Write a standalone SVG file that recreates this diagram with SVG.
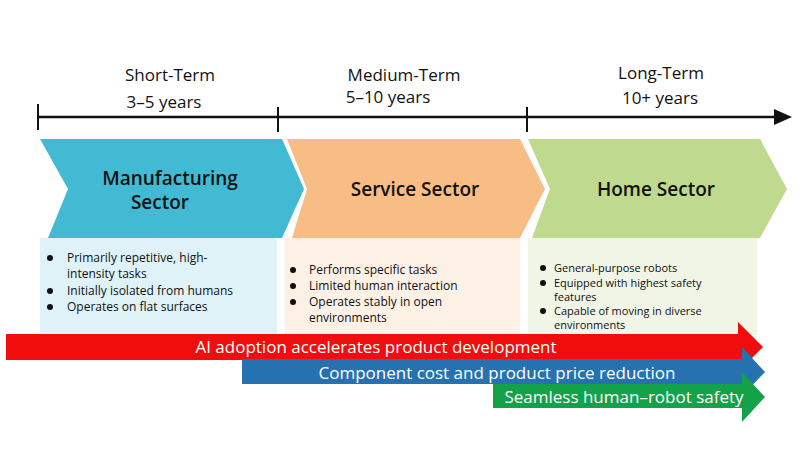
<svg xmlns="http://www.w3.org/2000/svg" width="800" height="450" viewBox="0 0 800 450">
<style>
text{font-family:"Open Sans","Noto Sans",sans-serif;fill:#111}
.h{font-size:17px;text-anchor:middle}
.c{font-size:19px;text-anchor:middle;font-weight:600}
.b{font-size:12px}
.s{font-size:11px}
.a{font-size:17px;fill:#fff;text-anchor:middle}
.tick{stroke:#111;stroke-width:2}
</style>
<rect width="800" height="450" fill="#fff"/>
<g id="axis">
<line x1="38" y1="117" x2="776" y2="117" stroke="#111" stroke-width="2.5"/>
<polygon points="774,109 792,117 774,125" fill="#111"/>
<line class="tick" x1="38" y1="104" x2="38" y2="130"/>
<line class="tick" x1="278" y1="107" x2="278" y2="132"/>
<line class="tick" x1="527" y1="107" x2="527" y2="132"/>
<text class="h" x="170" y="81">Short-Term</text>
<text class="h" x="164" y="108">3–5 years</text>
<text class="h" x="404" y="81">Medium-Term</text>
<text class="h" x="388" y="103">5–10 years</text>
<text class="h" x="661" y="79">Long-Term</text>
<text class="h" x="660" y="104">10+ years</text>
</g>
<g id="manufacturing">
<rect x="40" y="238" width="237" height="97" fill="#dff2f7"/>
<polygon points="40,139 282,139 304,189 282,238 48,238 68,189" fill="#43bad3"/>
<text class="c" x="170" y="185">Manufacturing</text>
<text class="c" x="160" y="209">Sector</text>
<circle cx="50" cy="258" r="3" fill="#111"/><text class="b" x="67" y="262">Primarily repetitive,  high-</text>
<text class="b" x="67" y="278">intensity tasks</text>
<circle cx="50" cy="291" r="3" fill="#111"/><text class="b" x="67" y="295">Initially isolated from humans</text>
<circle cx="50" cy="307" r="3" fill="#111"/><text class="b" x="67" y="311">Operates on flat surfaces</text>
</g>
<g id="service">
<rect x="285" y="238" width="235" height="97" fill="#fdf0e5"/>
<polygon points="287,139 520,139 545,189 520,238 292,238 307,189" fill="#f8bd85"/>
<text class="c" x="415" y="196">Service Sector</text>
<circle cx="293" cy="270" r="3" fill="#111"/><text class="b" x="309" y="274">Performs specific tasks</text>
<circle cx="293" cy="286" r="3" fill="#111"/><text class="b" x="309" y="290">Limited human interaction</text>
<circle cx="293" cy="302" r="3" fill="#111"/><text class="b" x="309" y="306">Operates stably in open</text>
<text class="b" x="309" y="322">environments</text>
</g>
<g id="home">
<rect x="528" y="238" width="229" height="97" fill="#f0f5e6"/>
<polygon points="528,139 760,139 787,189 760,238 532,238 550,189" fill="#bfda8e"/>
<text class="c" x="656" y="196">Home Sector</text>
<circle cx="543" cy="268" r="3" fill="#111"/><text class="s" x="554" y="272">General-purpose robots</text>
<circle cx="543" cy="283" r="3" fill="#111"/><text class="s" x="554" y="287">Equipped with highest safety</text>
<text class="s" x="554" y="301">features</text>
<circle cx="543" cy="311" r="3" fill="#111"/><text class="s" x="554" y="315">Capable of moving in diverse</text>
<text class="s" x="554" y="329">environments</text>
</g>
<g id="connectors">
<polygon points="6,334 738,334 738,322 763,347 738,372 738,360 6,360" fill="#f20d0d"/>
<text class="a" x="376" y="353">AI adoption accelerates product development</text>
<polygon points="242,359 742,359 742,347 765,372 742,396 742,384 242,384" fill="#2672b0"/>
<text class="a" x="497" y="379">Component cost and product price reduction</text>
<polygon points="493,384 742,384 742,372 765,397 742,422 742,408 493,408" fill="#13a24a"/>
<text class="a" x="624" y="403">Seamless human–robot safety</text>
</g>
</svg>
